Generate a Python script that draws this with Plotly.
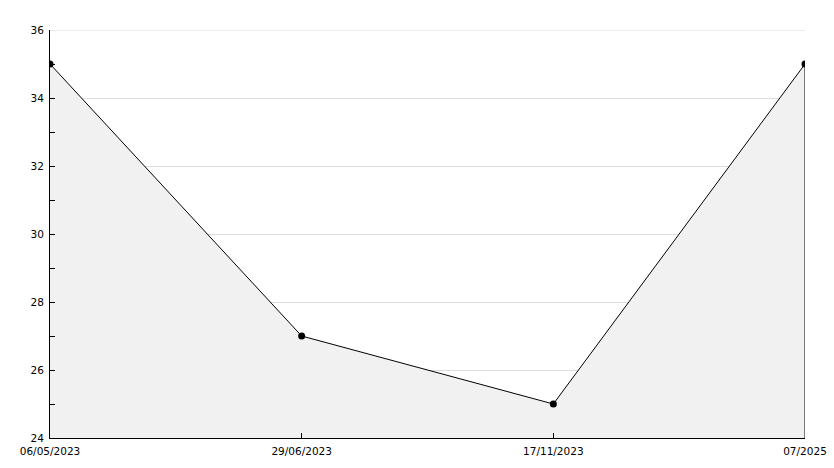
import plotly.graph_objects as go

categories = ["06/05/2023", "29/06/2023", "17/11/2023", "07/2025"]
values = [35, 27, 25, 35]
y_min, y_max = 24, 36

fig = go.Figure()
fig.add_trace(go.Scatter(
    x=categories, y=[y_min] * len(values), mode="lines",
    line=dict(width=0), hoverinfo="skip", showlegend=False))
fig.add_trace(go.Scatter(
    x=categories, y=values, mode="lines+markers",
    fill="tonexty", fillcolor="#f1f1f1",
    line=dict(color="black", width=1),
    marker=dict(color="black", size=7, symbol="circle"),
    showlegend=False))
# right edge of the filled area
fig.add_trace(go.Scatter(
    x=[categories[-1], categories[-1]], y=[values[-1], y_min], mode="lines",
    line=dict(color="black", width=1), hoverinfo="skip", showlegend=False))

fig.update_layout(
    width=834, height=468,
    margin=dict(l=50, r=29, t=30, b=30, autoexpand=False),
    plot_bgcolor="white", paper_bgcolor="white",
    font=dict(family="DejaVu Sans", size=10.5, color="black"),
    shapes=[dict(type="line", xref="paper", x0=0, x1=1, yref="y",
                 y0=y_max, y1=y_max, line=dict(color="#d8d8d8", width=1),
                 layer="below")],
)
fig.update_xaxes(
    type="category", range=[0, len(categories) - 1],
    showline=True, linecolor="black", linewidth=1,
    showgrid=False, ticks="inside", ticklen=5, tickcolor="black",
    ticklabelstandoff=3,
    zeroline=False, automargin=False,
)
fig.update_yaxes(
    range=[y_min, y_max], dtick=2, tick0=24,
    showline=True, linecolor="black", linewidth=1,
    showgrid=True, gridcolor="#dddddd", gridwidth=1,
    ticks="inside", ticklen=5, tickcolor="black",
    ticklabelstandoff=3,
    minor=dict(dtick=1, ticks="inside", ticklen=5, tickcolor="black", showgrid=False),
    zeroline=False, automargin=False,
)
fig.write_html("out.html", config={"displayModeBar": False},
               post_script="document.body.style.margin='0';")
